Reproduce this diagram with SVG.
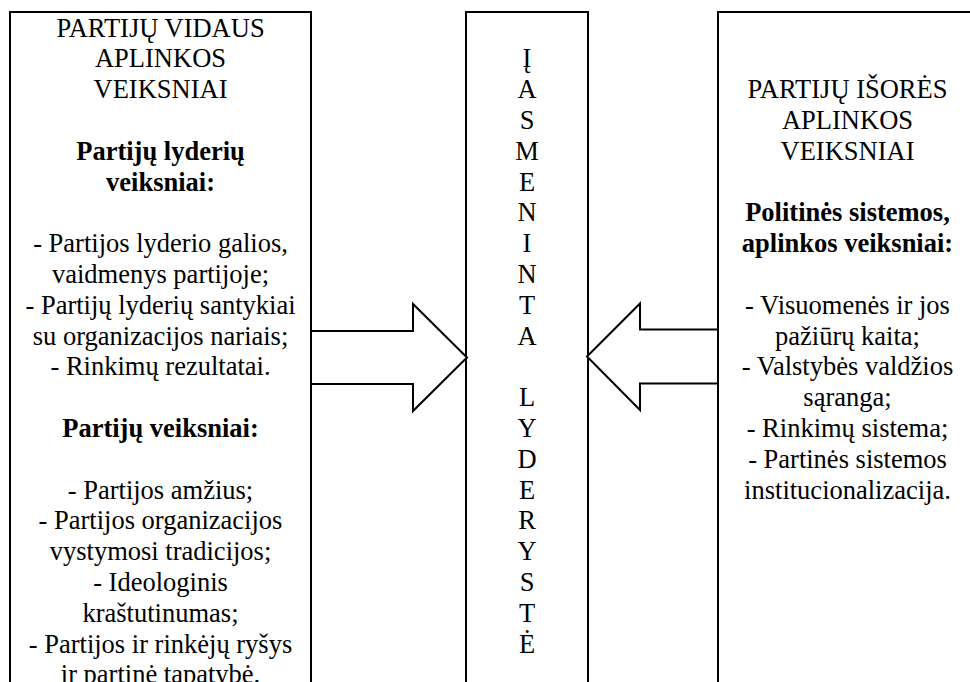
<svg xmlns="http://www.w3.org/2000/svg" width="970" height="682" viewBox="0 0 970 682">
<style>
.box{fill:#fff;stroke:#000;stroke-width:2}
.arr{fill:#fff;stroke:#000;stroke-width:2;stroke-linejoin:miter}
text{font-family:"Liberation Serif","Times New Roman",serif;font-size:26.5px;fill:#000;text-anchor:middle}
.b{font-weight:bold}
</style>
<rect width="970" height="682" fill="#fff"/>
<g id="node-internal">
<rect class="box" x="10" y="12" width="301" height="700"/>
<text x="160.5" y="36.5">PARTIJŲ VIDAUS</text>
<text x="160.5" y="67.3">APLINKOS</text>
<text x="160.5" y="98.1">VEIKSNIAI</text>
<text class="b" x="160.5" y="159.7">Partijų lyderių</text>
<text class="b" x="160.5" y="190.5">veiksniai:</text>
<text x="160.5" y="252.1">- Partijos lyderio galios,</text>
<text x="160.5" y="282.9">vaidmenys partijoje;</text>
<text x="160.5" y="313.7">- Partijų lyderių santykiai</text>
<text x="160.5" y="344.5">su organizacijos nariais;</text>
<text x="160.5" y="375.3">- Rinkimų rezultatai.</text>
<text class="b" x="160.5" y="436.9">Partijų veiksniai:</text>
<text x="160.5" y="498.5">- Partijos amžius;</text>
<text x="160.5" y="529.3">- Partijos organizacijos</text>
<text x="160.5" y="560.1">vystymosi tradicijos;</text>
<text x="160.5" y="590.9">- Ideologinis</text>
<text x="160.5" y="621.7">kraštutinumas;</text>
<text x="160.5" y="652.5">- Partijos ir rinkėjų ryšys</text>
<text x="160.5" y="683.3">ir partinė tapatybė.</text>
</g>
<g id="node-center">
<rect class="box" x="466" y="12" width="122" height="700"/>
<text x="527" y="67.3">Į</text>
<text x="527" y="98.1">A</text>
<text x="527" y="128.9">S</text>
<text x="527" y="159.7">M</text>
<text x="527" y="190.5">E</text>
<text x="527" y="221.3">N</text>
<text x="527" y="252.1">I</text>
<text x="527" y="282.9">N</text>
<text x="527" y="313.7">T</text>
<text x="527" y="344.5">A</text>
<text x="527" y="406.1">L</text>
<text x="527" y="436.9">Y</text>
<text x="527" y="467.7">D</text>
<text x="527" y="498.5">E</text>
<text x="527" y="529.3">R</text>
<text x="527" y="560.1">Y</text>
<text x="527" y="590.9">S</text>
<text x="527" y="621.7">T</text>
<text x="527" y="652.5">Ė</text>
</g>
<g id="node-external">
<rect class="box" x="718" y="12" width="300" height="700"/>
<text x="847.5" y="98.1">PARTIJŲ IŠORĖS</text>
<text x="847.5" y="128.9">APLINKOS</text>
<text x="847.5" y="159.7">VEIKSNIAI</text>
<text class="b" x="847.5" y="221.3">Politinės sistemos,</text>
<text class="b" x="847.5" y="252.1">aplinkos veiksniai:</text>
<text x="847.5" y="313.7">- Visuomenės ir jos</text>
<text x="847.5" y="344.5">pažiūrų kaita;</text>
<text x="847.5" y="375.3">- Valstybės valdžios</text>
<text x="847.5" y="406.1">sąranga;</text>
<text x="847.5" y="436.9">- Rinkimų sistema;</text>
<text x="847.5" y="467.7">- Partinės sistemos</text>
<text x="847.5" y="498.5">institucionalizacija.</text>
</g>
<g id="connectors">
<polygon class="arr" points="311,331 413,331 413,304 467,357.5 413,411 413,384 311,384"/>
<polygon class="arr" points="718,329.5 640,329.5 640,303.5 587,356.5 640,410 640,383.5 718,383.5"/>
</g>
</svg>
